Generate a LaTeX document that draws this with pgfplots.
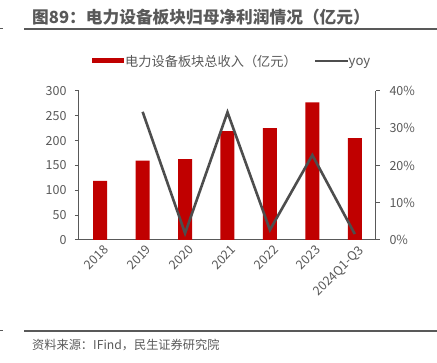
\documentclass[border=0pt]{standalone}
\usepackage{pgfplots}
\pgfplotsset{compat=1.18}
\usepackage{fontspec}
\setmainfont{Noto Sans CJK SC}
\definecolor{barred}{HTML}{C00000}
\definecolor{linegray}{HTML}{4D4D4D}
\definecolor{axgray}{HTML}{595959}
\definecolor{txtgray}{HTML}{595959}
\begin{document}
\begin{tikzpicture}[x=1pt,y=1pt]
\path[use as bounding box] (0,0) rectangle (437,-363);
% title
\node[anchor=west,inner sep=0pt,font=\fontsize{16.7}{17}\selectfont\bfseries,text=axgray] at (32,-17) {图89：电力设备板块归母净利润情况（亿元）};
\draw[axgray,line width=1.2pt] (24,-29) -- (437,-29);
\draw[axgray,line width=1pt] (0,-29) -- (3,-29);
% footer
\draw[axgray,line width=1.2pt] (24,-331) -- (437,-331);
\draw[axgray,line width=1pt] (0,-331) -- (3,-331);
\node[anchor=west,inner sep=0pt,font=\fontsize{12.2}{13}\selectfont,text=txtgray] at (32,-345) {资料来源：IFind，民生证券研究院};
% legend
\fill[barred] (92,-58.5) rectangle (124,-63.5);
\node[anchor=west,inner sep=0pt,font=\fontsize{13.2}{14}\selectfont,text=txtgray] at (125,-61) {电力设备板块总收入（亿元）};
\draw[linegray,line width=2.6pt] (315,-61) -- (348,-61);
\node[anchor=west,inner sep=0pt,font=\fontsize{13.2}{14}\selectfont,text=txtgray] at (348.5,-63) {yoy};
\begin{axis}[
  at={(79pt,-240pt)}, anchor=south west,
  scale only axis, width=297pt, height=149pt,
  xmin=-0.5, xmax=6.5, ymin=0, ymax=300,
  ytick={0,50,...,300},
  xtick={0,...,6},
  xticklabels={2018,2019,2020,2021,2022,2023,2024Q1-Q3},
  axis x line*=bottom, axis y line*=left,
  axis line style={axgray,line width=1pt},
  x axis line style={-}, y axis line style={-},
  tick style={axgray,line width=1pt},
  major tick length=4pt,
  xtick style={draw=none},
  ytick align=outside,
  tick label style={font=\fontsize{12.5}{13}\selectfont,text=txtgray},
  xticklabel style={rotate=45,anchor=north east,font=\fontsize{12.5}{13}\selectfont,inner sep=1pt,yshift=-4pt},
  /pgf/number format/assume math mode=true,
  yticklabel style={xshift=-5pt},
]
\addplot[ybar, bar width=14pt, fill=barred, draw=none] coordinates {
(0,119) (1,160) (2,163) (3,219) (4,225) (5,277) (6,205)};
\end{axis}
\begin{axis}[
  at={(79pt,-240pt)}, anchor=south west,
  scale only axis, width=297pt, height=149pt,
  xmin=-0.5, xmax=6.5, ymin=0, ymax=40,
  ytick={0,10,...,40},
  yticklabel={\pgfmathprintnumber{\tick}\%},
  axis x line=none, axis y line*=right,
  axis line style={axgray,line width=1pt},
  y axis line style={-},
  tick style={axgray,line width=1pt},
  major tick length=4pt,
  ytick align=outside,
  tick label style={font=\fontsize{12.5}{13}\selectfont,text=txtgray},
  /pgf/number format/assume math mode=true,
  yticklabel style={xshift=6pt},
]
\addplot[linegray, line width=2.6pt, mark=none] coordinates {
(1,34.4) (2,1.8) (3,34.3) (4,2.7) (5,22.8) (6,1.6)};
\end{axis}
\end{tikzpicture}
\end{document}
